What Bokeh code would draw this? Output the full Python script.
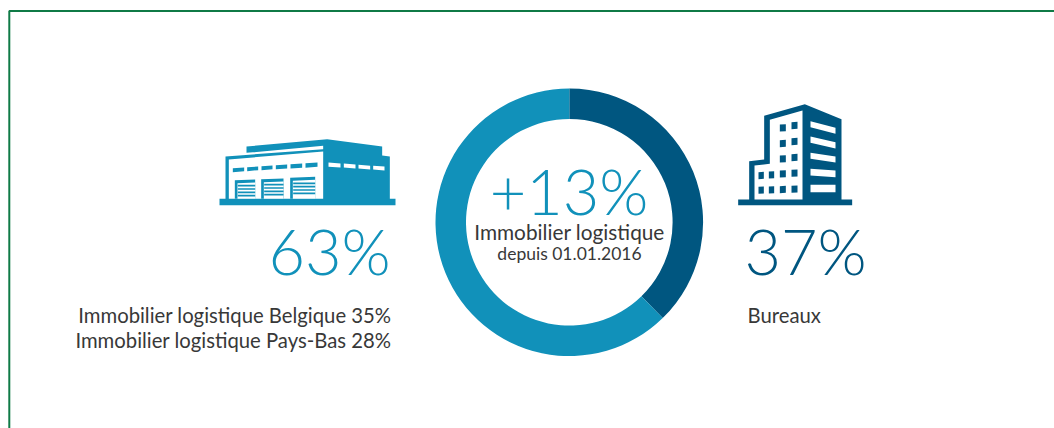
from bokeh.plotting import figure
from bokeh.embed import file_html
from bokeh.resources import INLINE
from bokeh.core.properties import value
from bokeh.models import Range1d, ColumnDataSource
import math

categories = ["Bureaux", "Immobilier logistique"]
shares = [37.7, 62.3]
colors = ["#005680", "#1191BA"]
W, H = 1054, 428
TOP = 428
LIGHT = "#1191BA"; DARK = "#005680"; TXT = "#383838"; GREEN = "#0F7A46"

p = figure(width=W, height=H, output_backend="svg", toolbar_location=None,
           x_range=Range1d(0, W), y_range=Range1d(0, H), min_border=0,
           outline_line_color=None, background_fill_color="white", border_fill_color="white")
p.axis.visible = False
p.grid.visible = False

def Y(v):
    return TOP - v

# frame
p.line([8.8, 8.8, 1054], [Y(428), Y(10.5), Y(10.5)], line_color=GREEN, line_width=2)

# donut
total = sum(shares)
cum = 0
starts, ends = [], []
for s in shares:
    starts.append(math.pi / 2 - 2 * math.pi * (cum + s) / total)
    ends.append(math.pi / 2 - 2 * math.pi * cum / total)
    cum += s
src = ColumnDataSource(dict(cat=categories, s=starts, e=ends, c=colors))
p.annular_wedge(x=568.8, y=Y(221.8), inner_radius=103.3, outer_radius=133.8, start_angle="s", end_angle="e",
                fill_color="c", line_color=None, source=src)

def poly(pts, color):
    p.patch([a for a, b in pts], [Y(b) for a, b in pts], fill_color=color, line_color=None)

# warehouse icon
def wx(a): return 200 + a / 3
def wy(b): return 120 + b / 3
def wp(pts, color): poly([(wx(a), wy(b)) for a, b in pts], color)
wp([(57, 235), (75, 235), (75, 108), (368, 86), (368, 76), (138, 97), (138, 78), (380, 56), (545, 78), (545, 105), (568, 108), (568, 235), (585, 235), (585, 254), (57, 254)], LIGHT)
wp([(85, 117), (368, 93), (368, 235), (85, 235)], "white")
for q in [[(97, 143), (131, 141), (131, 152), (97, 155)], [(140, 140), (173, 138), (173, 149), (140, 152)],
          [(183, 137), (216, 135), (216, 146), (183, 149)], [(226, 134), (260, 132), (260, 144), (226, 146)],
          [(270, 131), (305, 129), (305, 142), (270, 144)], [(315, 128), (351, 126), (351, 139), (315, 142)]]:
    wp(q, LIGHT)
for q in [[(384, 126), (420, 129), (420, 141), (384, 139)], [(430, 129), (465, 132), (465, 144), (430, 141)],
          [(474, 133), (509, 136), (509, 147), (474, 144)], [(518, 136), (552, 138), (552, 150), (518, 147)]]:
    wp(q, "white")
for x0, x1, ytop, ytop2 in [(103, 164, 179, 177), (182, 249, 176, 174), (269, 344, 172, 169)]:
    wp([(x0, ytop), (x1, ytop2), (x1, 235), (x0, 235)], LIGHT)
    wp([(x0 + 8, ytop + 9), (x1, ytop2 + 9), (x1, 235), (x0 + 8, 235)], "white")
    yy = ytop + 14
    while yy < 226:
        wp([(x0 + 9, yy), (x1, yy), (x1, yy + 5), (x0 + 9, yy + 5)], LIGHT)
        yy += 10

# office icon
def ox(a): return 720 + a / 3
def oy(b): return 90 + b / 3
def op(pts, color): poly([(ox(a), oy(b)) for a, b in pts], color)
op([(53, 327), (86, 327), (86, 212), (131, 207), (131, 76), (253, 41), (363, 86), (363, 327), (395, 327), (395, 344), (53, 344)], DARK)
op([(102, 225), (148, 220), (148, 88), (246, 60), (246, 327), (102, 327)], "white")
for q in [(270, 92, 345, 112, 130), (270, 138, 345, 155, 174), (270, 187, 345, 198, 216), (270, 235, 345, 240, 260), (270, 283, 345, 283, 305)]:
    x0, y0, x1, y1, b = q
    op([(x0, y0), (x1, y1), (x1, b), (x0, b - (y1 - y0))], "white")
for (a, b, sz) in [(178, 102, 18), (213, 95, 18), (178, 149, 18), (213, 143, 18), (178, 195, 18), (213, 191, 18),
                   (114, 245, 16), (145, 243, 16), (178, 240, 18), (213, 238, 18),
                   (114, 289, 16), (145, 288, 16), (178, 287, 18), (213, 286, 18)]:
    op([(a, b), (a + sz, b - 1), (a + sz, b + 20), (a, b + 21)], DARK)

def txt(x, y, s, size, color, align="left", font="Lato"):
    p.text(x=[x], y=[Y(y)], text=[s], text_font=value(font), text_font_size=size, text_color=color,
           text_align=align, text_baseline="middle")

BIG = "Lato Light"
txt(329, 250, "63%", "63px", LIGHT, "center", BIG)
txt(805, 250, "37%", "63px", DARK, "center", BIG)
txt(568.5, 190, "+13%", "63px", LIGHT, "center", BIG)
txt(569, 231, "Immobilier logistique", "20.8px", TXT, "center")
txt(569, 252.5, "depuis 01.01.2016", "17.5px", TXT, "center")
txt(391, 314.5, "Immobilier logistique Belgique 35%", "20.3px", TXT, "right")
txt(391, 339.5, "Immobilier logistique Pays-Bas 28%", "20.3px", TXT, "right")
txt(747, 314.5, "Bureaux", "20.3px", TXT, "left")

open("out.html", "w").write(file_html(p, INLINE))
